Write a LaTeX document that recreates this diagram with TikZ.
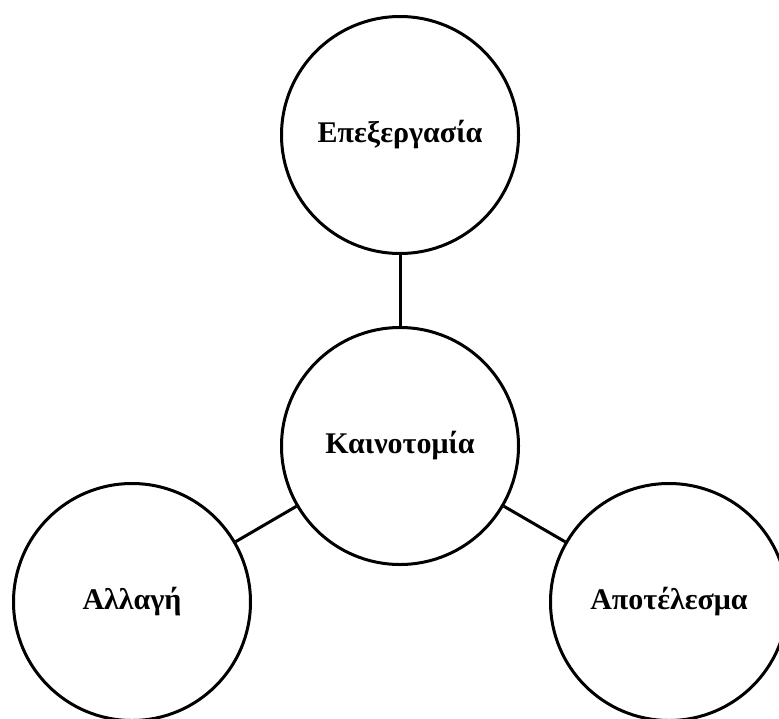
\documentclass[tikz,border=0pt]{standalone}
\usepackage{fontspec}
\setmainfont{Liberation Serif}
\usetikzlibrary{positioning}
\tikzset{
	bubble/.style={draw,circle,line width=3pt,minimum size=237pt,inner sep=0pt,
		font=\fontsize{30}{36}\selectfont\bfseries},
	link/.style={line width=3pt}
}

\begin{document}
\begin{tikzpicture}[x=1pt,y=-1pt]
            \useasboundingbox (0,0) rectangle (779,718);
            \clip (0,0) rectangle (779,718);
            \node[bubble] (inn) at (400,446) {Καινοτομία};
            \node[bubble] (pro) at (400,135) {Επεξεργασία};
            \node[bubble] (chg) at (132,602) {Αλλαγή};
            \node[bubble] (res) at (669,602) {Αποτέλεσμα};
            \draw[link] (pro) -- (inn);
            \draw[link] (inn) -- (chg);
            \draw[link] (inn) -- (res);
        \end{tikzpicture}
\end{document}
